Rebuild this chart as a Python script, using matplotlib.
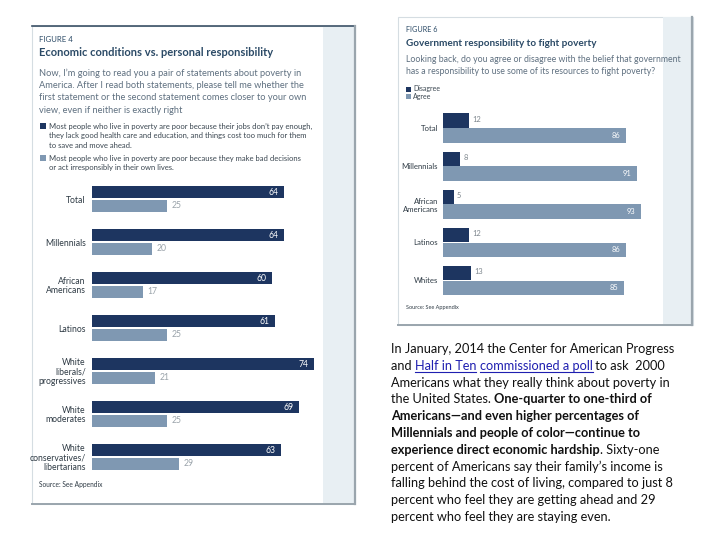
import matplotlib
matplotlib.use("Agg")
import matplotlib.pyplot as plt
from matplotlib.patches import Rectangle
import numpy as np

# ---------------- data ----------------
fig4_categories = ["Total", "Millennials", "African\nAmericans", "Latinos",
                   "White\nliberals/\nprogressives", "White\nmoderates",
                   "White\nconservatives/\nlibertarians"]
fig4_economic = [64, 64, 60, 61, 74, 69, 63]
fig4_personal = [25, 20, 17, 25, 21, 25, 29]

fig6_categories = ["Total", "Millennials", "African\nAmericans", "Latinos", "Whites"]
fig6_disagree = [12, 8, 5, 12, 13]
fig6_agree = [86, 91, 93, 86, 85]

DARK = "#1d3560"
LIGHT = "#7f98b2"
TITLE_C = "#2b4a66"
BODY_C = "#5f7080"
STRIP = "#e8eff3"
FONT = "Lato"

plt.rcParams["font.family"] = [FONT, "DejaVu Sans"]

fig = plt.figure(figsize=(7.2, 5.4), dpi=100)
bg = fig.add_axes([0, 0, 1, 1])
bg.set_xlim(0, 720)
bg.set_ylim(540, 0)
bg.axis("off")


def px_axes(x0, y0, x1, y1):
    return fig.add_axes([x0 / 720, 1 - y1 / 540, (x1 - x0) / 720, (y1 - y0) / 540])


# ---------------- panel frames ----------------
bg.add_patch(Rectangle((32, 26), 323, 478, facecolor="white", edgecolor="#d5dde2", lw=0.8, zorder=0))
bg.add_patch(Rectangle((323, 26), 32, 478, facecolor=STRIP, edgecolor="none", zorder=1))
bg.plot([32, 355], [26, 26], color="#3b5166", lw=1.2, zorder=2)
bg.plot([355, 355], [26, 504], color="#9aa5ad", lw=1.6, zorder=2)
bg.plot([32, 355], [504, 504], color="#9aa5ad", lw=1.4, zorder=2)
bg.add_patch(Rectangle((398, 17), 295, 308, facecolor="white", edgecolor="#d5dde2", lw=0.8, zorder=0))
bg.add_patch(Rectangle((663, 17), 30, 308, facecolor=STRIP, edgecolor="none", zorder=1))
bg.plot([692, 692], [17, 325], color="#9aa5ad", lw=1.6, zorder=2)
bg.plot([398, 692], [325, 325], color="#9aa5ad", lw=1.4, zorder=2)

# ---------------- Figure 4 texts ----------------
bg.text(39, 39, "FIGURE 4", fontsize=5.6, color=TITLE_C, va="center", ha="left")
bg.text(39, 53, "Economic conditions vs. personal responsibility", fontsize=8.0,
        fontweight="bold", color=TITLE_C, va="center", ha="left")
q4 = ["Now, I\u2019m going to read you a pair of statements about poverty in",
      "America. After I read both statements, please tell me whether the",
      "first statement or the second statement comes closer to your own",
      "view, even if neither is exactly right"]
for i, line in enumerate(q4):
    bg.text(39, 73 + 12.4 * i, line, fontsize=6.7, color=BODY_C, va="center", ha="left")
leg4 = [["Most people who live in poverty are poor because their jobs don\u2019t pay enough,",
         "they lack good health care and education, and things cost too much for them",
         "to save and move ahead."],
        ["Most people who live in poverty are poor because they make bad decisions",
         "or act irresponsibly in their own lives."]]
leg_y = [126, 158]
for col, lines, y0 in zip([DARK, LIGHT], leg4, leg_y):
    bg.add_patch(Rectangle((40, y0 - 3), 6, 6, facecolor=col, edgecolor="none", zorder=3))
    for j, line in enumerate(lines):
        bg.text(49, y0 + 9.7 * j, line, fontsize=5.5, color="#3a4650", va="center", ha="left")
bg.text(39, 484, "Source: See Appendix", fontsize=4.8, color="#2e3a44", va="center", ha="left")

# ---------------- Figure 4 bars ----------------
ax4 = px_axes(92, 170, 323, 475)
ax4.set_facecolor("none")
n4 = len(fig4_categories)
idx4 = np.arange(n4)
grp4 = 43.0
top_off = (199 - 170) / grp4
ax4.set_ylim(305 / grp4 - top_off, -top_off)
ax4.set_xlim(0, 231 / 3.0)
h4 = 12 / grp4
d_off = 6.6 / grp4
ax4.barh(idx4 - d_off, fig4_economic, height=h4, color=DARK)
ax4.barh(idx4 + d_off, fig4_personal, height=h4, color=LIGHT)
for i in idx4:
    ax4.annotate(str(fig4_economic[i]), (fig4_economic[i], i - d_off), xytext=(-4, 0),
                 textcoords="offset points", ha="right", va="center", fontsize=6.2, color="white")
    ax4.annotate(str(fig4_personal[i]), (fig4_personal[i], i + d_off), xytext=(3, 0),
                 textcoords="offset points", ha="left", va="center", fontsize=6.2, color="#9aa3aa")
ax4.set_yticks(idx4)
ax4.set_yticklabels(fig4_categories, fontsize=6.2, color="#2e3a44", linespacing=1.05)
ax4.tick_params(axis="y", length=0, pad=4.5)
ax4.set_xticks([])
for s in ax4.spines.values():
    s.set_visible(False)

# ---------------- Figure 6 texts ----------------
bg.text(406, 30, "FIGURE 6", fontsize=5.2, color=TITLE_C, va="center", ha="left")
bg.text(406, 43, "Government responsibility to fight poverty", fontsize=7.2,
        fontweight="bold", color=TITLE_C, va="center", ha="left")
q6 = ["Looking back, do you agree or disagree with the belief that government",
      "has a responsibility to use some of its resources to fight poverty?"]
for i, line in enumerate(q6):
    bg.text(406, 59 + 12.6 * i, line, fontsize=6.3, color=BODY_C, va="center", ha="left")
for col, lab, y0 in zip([DARK, LIGHT], ["Disagree", "Agree"], [89, 96]):
    bg.add_patch(Rectangle((406, y0 - 2.5), 5, 5, facecolor=col, edgecolor="none", zorder=3))
    bg.text(413, y0, lab, fontsize=5.0, color="#3a4650", va="center", ha="left")
bg.text(406, 308, "Source: See Appendix", fontsize=4.0, color="#2e3a44", va="center", ha="left")

# ---------------- Figure 6 bars ----------------
ax6 = px_axes(443, 105, 663, 300)
ax6.set_facecolor("none")
n6 = len(fig6_categories)
idx6 = np.arange(n6)
grp6 = 38.1
top6 = (128 - 105) / grp6
ax6.set_ylim(195 / grp6 - top6, -top6)
ax6.set_xlim(0, 220 / 2.13)
h6 = 14.3 / grp6
o6 = 7.4 / grp6
ax6.barh(idx6 - o6, fig6_disagree, height=h6, color=DARK)
ax6.barh(idx6 + o6, fig6_agree, height=h6, color=LIGHT)
for i in idx6:
    ax6.annotate(str(fig6_disagree[i]), (fig6_disagree[i], i - o6), xytext=(2.5, 1),
                 textcoords="offset points", ha="left", va="center", fontsize=5.4, color="#7d868d")
    ax6.annotate(str(fig6_agree[i]), (fig6_agree[i], i + o6), xytext=(-4, 0),
                 textcoords="offset points", ha="right", va="center", fontsize=5.4, color="white")
ax6.set_yticks(idx6)
ax6.set_yticklabels(fig6_categories, fontsize=5.6, color="#2e3a44", linespacing=1.3)
ax6.tick_params(axis="y", length=0, pad=3.5)
ax6.set_xticks([])
for s in ax6.spines.values():
    s.set_visible(False)

# ---------------- paragraph ----------------
para = [
    [("In January, 2014 the Center for American Progress", "n")],
    [("and ", "n"), ("Half in Ten", "l"), (" ", "n"), ("commissioned a poll", "l"), (" to ask  2000", "n")],
    [("Americans what they really think about poverty in", "n")],
    [("the United States. ", "n"), ("One-quarter to one-third of", "b")],
    [("Americans\u2014and even higher percentages of", "b")],
    [("Millennials and people of color\u2014continue to", "b")],
    [("experience direct economic hardship", "b"), (". Sixty-one", "n")],
    [("percent of Americans say their family\u2019s income is", "n")],
    [("falling behind the cost of living, compared to just 8", "n")],
    [("percent who feel they are getting ahead and 29", "n")],
    [("percent who feel they are staying even.", "n")],
]
PFS = 9.15
fig.canvas.draw()
renderer = fig.canvas.get_renderer()
for k, segs in enumerate(para):
    y = 349 + 16.8 * k
    x = 391
    for txt, style in segs:
        t = bg.text(x, y, txt, fontsize=PFS, va="center", ha="left",
                    fontweight="bold" if style == "b" else "normal",
                    color="#1f1fb0" if style == "l" else "#111111")
        bb = t.get_window_extent(renderer=renderer)
        w = bb.width
        if style == "l":
            bg.plot([x, x + w], [y + 6.5, y + 6.5], color="#1f1fb0", lw=0.8)
        x += w

fig.savefig("out.png", dpi=100)
